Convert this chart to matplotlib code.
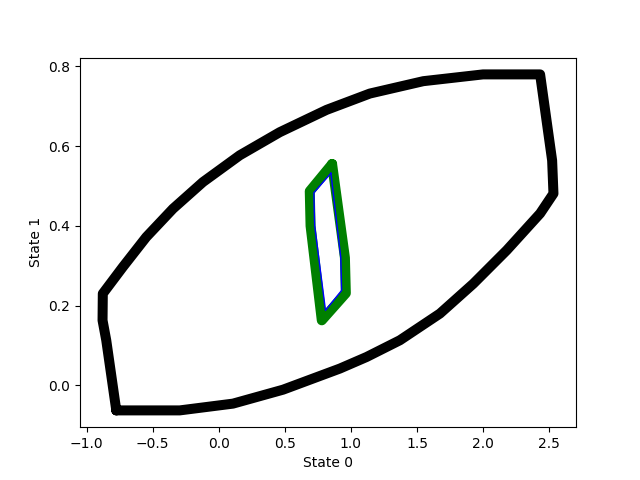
import matplotlib
matplotlib.use('Agg')
import matplotlib.pyplot as plt

# outer reachable set (black)
outer_x = [-0.775, -0.295, 0.108, 0.487, 0.917, 1.119, 1.371, 1.674, 1.927, 2.180,
           2.432, 2.533, 2.523, 2.432, 2.000, 1.548, 1.144, 0.816, 0.462, 0.159,
           -0.119, -0.346, -0.548, -0.725, -0.877, -0.879, -0.851, -0.775]
outer_y = [-0.063, -0.063, -0.046, -0.011, 0.042, 0.071, 0.113, 0.180, 0.255, 0.339,
           0.431, 0.481, 0.564, 0.780, 0.780, 0.763, 0.732, 0.691, 0.635, 0.577,
           0.510, 0.443, 0.372, 0.297, 0.230, 0.163, 0.113, -0.063]

# inner set (green)
inner_x = [0.858, 0.689, 0.695, 0.780, 0.962, 0.955, 0.858]
inner_y = [0.555, 0.487, 0.400, 0.163, 0.231, 0.320, 0.555]

# boundary (blue)
blue_x = [0.849, 0.720, 0.726, 0.808, 0.930, 0.924, 0.849]
blue_y = [0.532, 0.483, 0.400, 0.188, 0.238, 0.320, 0.532]

fig, ax = plt.subplots(figsize=(6.4, 4.8), dpi=100)
ax.plot(outer_x, outer_y, color='black', linewidth=7.2,
        solid_joinstyle='round', solid_capstyle='round')
ax.plot(inner_x, inner_y, color='green', linewidth=7.2,
        solid_joinstyle='round', solid_capstyle='round')
ax.plot(blue_x, blue_y, color='blue', linewidth=1)
ax.set_xlabel('State 0')
ax.set_ylabel('State 1')
fig.savefig('out.png')
